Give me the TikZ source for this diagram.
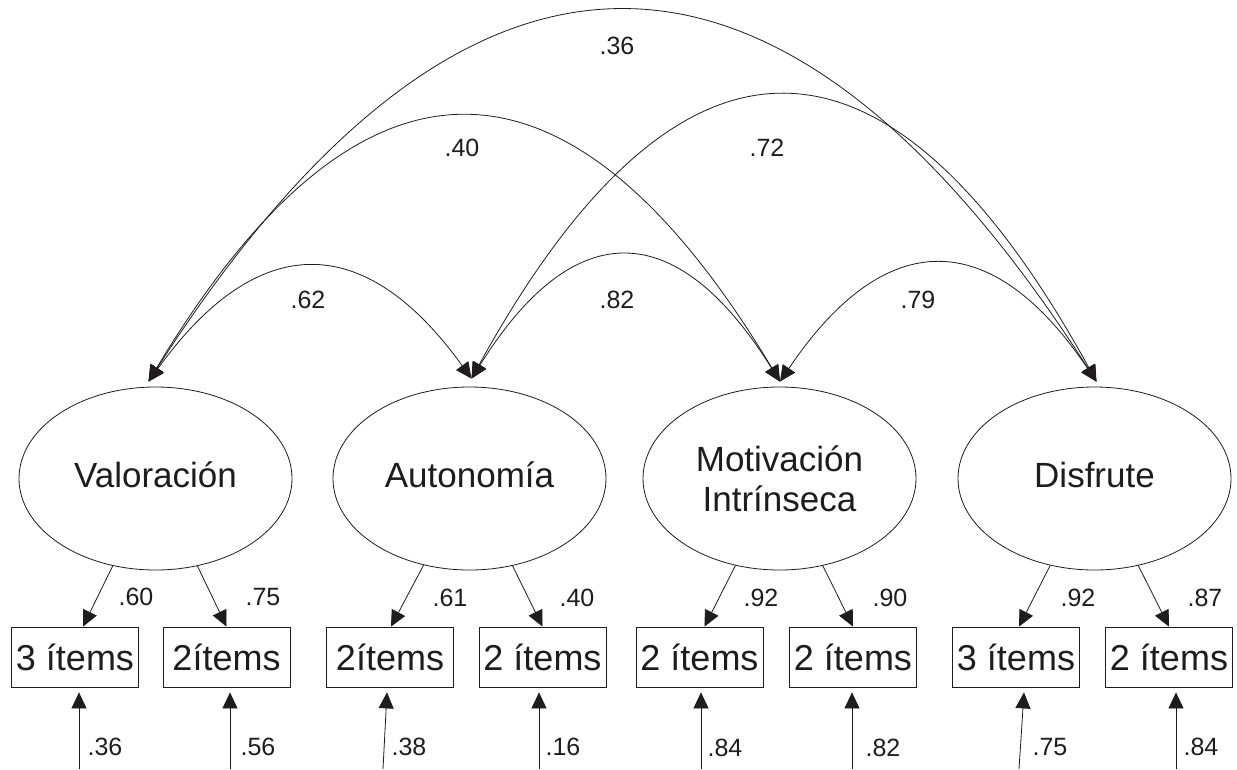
\documentclass[tikz,border=0pt]{standalone}
\usepackage{fontspec}
\setmainfont{Liberation Sans}
\usetikzlibrary{arrows.meta,shapes.geometric,calc}
\definecolor{ink}{HTML}{1E1C1C}
\begin{document}
\begin{tikzpicture}[x=1pt,y=-1pt,
  lat/.style={draw=ink, ellipse, line width=0.8pt, minimum width=273pt, minimum height=183pt, inner sep=0pt, font=\fontsize{35}{40}\selectfont, align=center, text=ink},
  latone/.style={lat, text height=25pt, text depth=8pt},
  obs/.style={draw=ink, rectangle, line width=0.8pt, minimum width=127pt, minimum height=60pt, inner sep=0pt, font=\fontsize{36}{40}\selectfont, text=ink},
  num/.style={font=\fontsize{25}{30}\selectfont, inner sep=0pt, text=ink},
  tipa/.style={draw=ink, -{Triangle[length=16pt,width=15pt]}, line width=0.8pt},
  cov/.style={draw=ink, {Triangle[length=16pt,width=15pt]}-{Triangle[length=16pt,width=15pt]}, line width=0.8pt},
]
\useasboundingbox (0,0) rectangle (1237,769);

% latent variables
\node[latone] (V) at (155.5,478.5) {Valoración};
\node[latone] (A) at (469.5,478.5) {Autonomía};
\node[lat] (M) at (779.5,478.5) {Motivación\\Intrínseca};
\node[latone] (D) at (1094.5,478.5) {Disfrute};

% observed
\node[obs] (b1) at (75,657) {3 ítems};
\node[obs] (b2) at (226.5,657) {2ítems};
\node[obs] (b3) at (390,657) {2ítems};
\node[obs] (b4) at (542.5,657) {2 ítems};
\node[obs] (b5) at (699.5,657) {2 ítems};
\node[obs] (b6) at (853,657) {2 ítems};
\node[obs] (b7) at (1016,657) {3 ítems};
\node[obs] (b8) at (1169,657) {2 ítems};

% loadings
\draw[tipa] (V) -- ([xshift=8pt]b1.north);
\draw[tipa] (V) -- (b2.north);
\draw[tipa] (A) -- ([xshift=1pt]b3.north);
\draw[tipa] (A) -- (b4.north);
\draw[tipa] (M) -- ([xshift=5pt]b5.north);
\draw[tipa] (M) -- (b6.north);
\draw[tipa] (D) -- ([xshift=3pt]b7.north);
\draw[tipa] (D) -- (b8.north);

\node[num] (l1) at (136,597) {.60};
\node[num] (l2) at (263,597) {.75};
\node[num] (l3) at (450,598) {.61};
\node[num] (l4) at (577,598) {.40};
\node[num] (l5) at (761,598) {.92};
\node[num] (l6) at (890,598) {.90};
\node[num] (l7) at (1078,598) {.92};
\node[num] (l8) at (1205,598) {.87};

% error arrows
\coordinate (e1) at (79,769);
\coordinate (e2) at (230,769);
\coordinate (e3) at (383,769);
\coordinate (e4) at (539,769);
\coordinate (e5) at (701,769);
\coordinate (e6) at (852,769);
\coordinate (e7) at (1019,769);
\coordinate (e8) at (1176,769);
\draw[tipa] (e1) -- ($(e1 |- b1.south)+(0,5)$);
\draw[tipa] (e2) -- ($(e2 |- b2.south)+(0,5)$);
\draw[tipa] (e3) -- ($(b3.south)+(-3,5)$);
\draw[tipa] (e4) -- ($(e4 |- b4.south)+(0,5)$);
\draw[tipa] (e5) -- ($(e5 |- b5.south)+(0,5)$);
\draw[tipa] (e6) -- ($(e6 |- b6.south)+(0,5)$);
\draw[tipa] (e7) -- ($(b7.south)+(8,5)$);
\draw[tipa] (e8) -- ($(e8 |- b8.south)+(0,5)$);

\node[num] (r1) at (105,747) {.36};
\node[num] (r2) at (258,747) {.56};
\node[num] (r3) at (409,747) {.38};
\node[num] (r4) at (563,747) {.16};
\node[num] (r5) at (725,748) {.84};
\node[num] (r6) at (883,748) {.82};
\node[num] (r7) at (1050,747) {.75};
\node[num] (r8) at (1201,747) {.84};

% covariance end points
\coordinate (tV) at ([xshift=-7pt,yshift=5pt]V.north);
\coordinate (tA) at ([xshift=2pt,yshift=8pt]A.north);
\coordinate (tM) at ([xshift=0.5pt,yshift=5pt]M.north);
\coordinate (tD) at ([xshift=2pt,yshift=5pt]D.north);

\draw[cov] (tV) .. controls +(108,-150) and +(-108,-150) .. (tA);
\draw[cov] (tA) .. controls +(103,-165) and +(-103,-165) .. (tM);
\draw[cov] (tM) .. controls +(105,-156) and +(-105,-156) .. (tD);
\draw[cov] (tV) .. controls +(211,-352) and +(-211,-352) .. (tM);
\draw[cov] (tA) .. controls +(208,-378) and +(-208,-378) .. (tD);
\draw[cov] (tV) .. controls +(316,-493) and +(-316,-493) .. (tD);

\node[num] (c1) at (308,300) {.62};
\node[num] (c2) at (617,300) {.82};
\node[num] (c3) at (918,300) {.79};
\node[num] (c4) at (462,148) {.40};
\node[num] (c5) at (767,148) {.72};
\node[num] (c6) at (617,46) {.36};
\end{tikzpicture}
\end{document}
